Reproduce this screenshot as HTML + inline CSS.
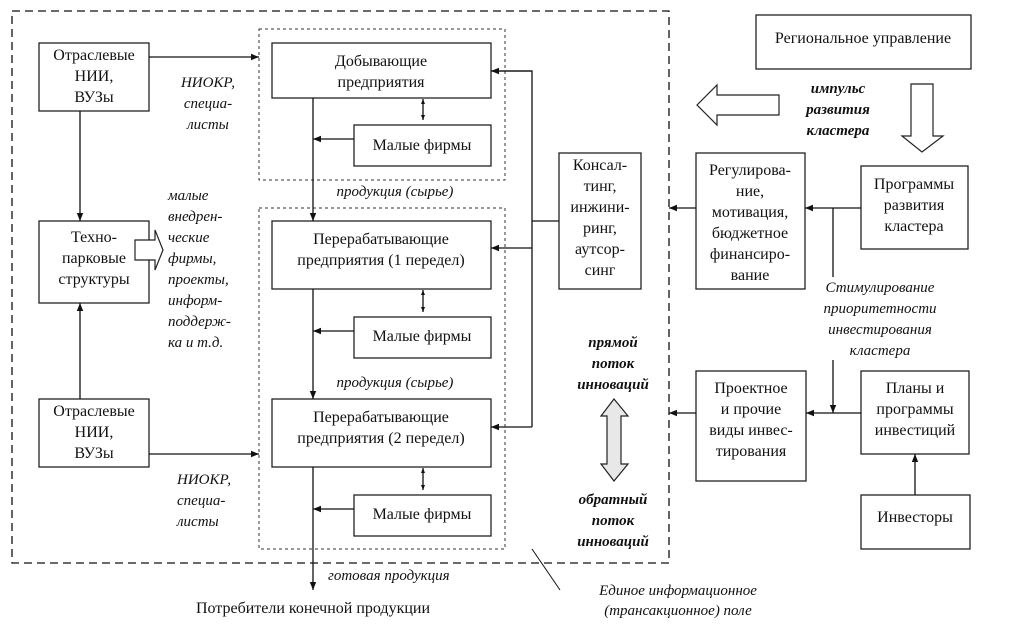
<!DOCTYPE html>
<html><head><meta charset="utf-8"><style>
body{margin:0;background:#fff}
svg{display:block}
text{font-family:"Liberation Serif","DejaVu Serif",serif;font-size:16px;fill:#111}
.c{text-anchor:middle}
.i{font-style:italic;font-size:15px}
.b{font-style:italic;font-weight:bold;font-size:15px}
rect.n{fill:#fff;stroke:#222;stroke-width:1.3}
line,polyline{stroke:#111;stroke-width:1.3;fill:none}
</style></head><body>
<svg width="1012" height="628" viewBox="0 0 1012 628" xmlns="http://www.w3.org/2000/svg">
<defs>
<marker id="a" viewBox="0 0 10 10" refX="10" refY="5" markerWidth="8" markerHeight="8" orient="auto-start-reverse" markerUnits="userSpaceOnUse"><path d="M0,1 L10,5 L0,9 z" fill="#111"/></marker>
<marker id="s" viewBox="0 0 10 10" refX="10" refY="5" markerWidth="5" markerHeight="5" orient="auto-start-reverse" markerUnits="userSpaceOnUse"><path d="M0,1 L10,5 L0,9 z" fill="#111"/></marker>
</defs>
<!-- outer dashed -->
<polyline points="669,563 12,563 12,11 669,11 669,563" style="stroke-dasharray:8,5"/>
<!-- inner dotted -->
<rect x="259" y="29" width="246" height="151" fill="none" stroke="#333" stroke-width="1" stroke-dasharray="3,3"/>
<rect x="259" y="208" width="246" height="341" fill="none" stroke="#333" stroke-width="1" stroke-dasharray="3,3"/>

<!-- left boxes -->
<rect class="n" x="39" y="43" width="110" height="68"/>
<text class="c" x="94" y="60">Отраслевые</text><text class="c" x="94" y="81">НИИ,</text><text class="c" x="94" y="102">ВУЗы</text>
<rect class="n" x="39" y="221" width="110" height="82"/>
<text class="c" x="94" y="242">Техно-</text><text class="c" x="94" y="263">парковые</text><text class="c" x="94" y="284">структуры</text>
<rect class="n" x="39" y="399" width="110" height="68"/>
<text class="c" x="94" y="416">Отраслевые</text><text class="c" x="94" y="437">НИИ,</text><text class="c" x="94" y="458">ВУЗы</text>
<line x1="80" y1="111" x2="80" y2="221" marker-end="url(#a)"/>
<line x1="80" y1="399" x2="80" y2="303" marker-end="url(#a)"/>
<line x1="149" y1="57" x2="259" y2="57" marker-end="url(#a)"/>
<line x1="149" y1="454" x2="259" y2="454" marker-end="url(#a)"/>
<polygon points="135,240 155,240 155,230 163,250 155,270 155,260 135,260" fill="#fff" stroke="#222" stroke-width="1.2"/>

<text class="i c" x="208" y="87">НИОКР,</text><text class="i c" x="208" y="108">специа-</text><text class="i c" x="208" y="129">листы</text>
<text class="i" x="168" y="200">малые</text><text class="i" x="168" y="221">внедрен-</text><text class="i" x="168" y="242">ческие</text><text class="i" x="168" y="263">фирмы,</text><text class="i" x="168" y="284">проекты,</text><text class="i" x="168" y="305">информ-</text><text class="i" x="168" y="326">поддерж-</text><text class="i" x="168" y="347">ка и т.д.</text>
<text class="i" x="177" y="484">НИОКР,</text><text class="i" x="177" y="505">специа-</text><text class="i" x="177" y="526">листы</text>

<!-- center column -->
<rect class="n" x="272" y="43" width="219" height="55"/>
<text class="c" x="381" y="66">Добывающие</text><text class="c" x="381" y="87">предприятия</text>
<rect class="n" x="354" y="125" width="137" height="41"/>
<text class="c" x="422" y="150">Малые фирмы</text>
<rect class="n" x="272" y="221" width="219" height="68"/>
<text class="c" x="381" y="244">Перерабатывающие</text><text class="c" x="381" y="265">предприятия (1 передел)</text>
<rect class="n" x="354" y="317" width="137" height="41"/>
<text class="c" x="422" y="341">Малые фирмы</text>
<rect class="n" x="272" y="399" width="219" height="68"/>
<text class="c" x="381" y="422">Перерабатывающие</text><text class="c" x="381" y="443">предприятия (2 передел)</text>
<rect class="n" x="354" y="495" width="137" height="41"/>
<text class="c" x="422" y="519">Малые фирмы</text>

<line x1="423" y1="99" x2="423" y2="120" marker-start="url(#s)" marker-end="url(#s)"/>
<line x1="423" y1="290" x2="423" y2="312" marker-start="url(#s)" marker-end="url(#s)"/>
<line x1="423" y1="468" x2="423" y2="490" marker-start="url(#s)" marker-end="url(#s)"/>
<line x1="313" y1="98" x2="313" y2="221" marker-end="url(#a)"/>
<line x1="313" y1="289" x2="313" y2="399" marker-end="url(#a)"/>
<line x1="313" y1="467" x2="313" y2="590" marker-end="url(#a)"/>
<line x1="354" y1="139" x2="313" y2="139" marker-end="url(#a)"/>
<line x1="354" y1="331" x2="313" y2="331" marker-end="url(#a)"/>
<line x1="354" y1="509" x2="313" y2="509" marker-end="url(#a)"/>
<text class="i c" x="395" y="196">продукция (сырье)</text>
<text class="i c" x="395" y="387">продукция (сырье)</text>
<text class="i" x="328" y="580">готовая продукция</text>
<text class="c" x="313" y="613">Потребители конечной продукции</text>

<!-- bus -->
<polyline points="491,71 532,71 532,427"/>
<line x1="532" y1="71" x2="491" y2="71" marker-end="url(#a)"/>
<line x1="532" y1="248" x2="491" y2="248" marker-end="url(#a)"/>
<line x1="532" y1="427" x2="491" y2="427" marker-end="url(#a)"/>
<line x1="532" y1="221" x2="559" y2="221"/>
<rect class="n" x="559" y="153" width="82" height="136"/>
<text class="c" x="600" y="170">Консал-</text><text class="c" x="600" y="191">тинг,</text><text class="c" x="600" y="212">инжини-</text><text class="c" x="600" y="233">ринг,</text><text class="c" x="600" y="254">аутсор-</text><text class="c" x="600" y="275">синг</text>

<text class="b c" x="613" y="347">прямой</text><text class="b c" x="613" y="368">поток</text><text class="b c" x="613" y="389">инноваций</text>
<polygon points="614,399 628,416 621,416 621,464 628,464 614,481 601,464 607,464 607,416 601,416" fill="#e8e8e8" stroke="#222" stroke-width="1.2"/>
<text class="b c" x="613" y="504">обратный</text><text class="b c" x="613" y="525">поток</text><text class="b c" x="613" y="546">инноваций</text>
<line x1="532" y1="549" x2="560" y2="590" style="stroke-width:1"/>
<text class="i c" x="678" y="595">Единое информационное</text>
<text class="i c" x="678" y="615">(трансакционное) поле</text>

<!-- right side -->
<rect class="n" x="756" y="15" width="215" height="54"/>
<text class="c" x="863" y="43">Региональное управление</text>
<polygon points="697,105 717,85 717,95 779,95 779,115 717,115 717,125" fill="#fff" stroke="#222" stroke-width="1.2"/>
<text class="b c" x="838" y="93">импульс</text><text class="b c" x="838" y="114">развития</text><text class="b c" x="838" y="135">кластера</text>
<polygon points="911,84 933,84 933,136 943,136 922,152 902,136 911,136" fill="#fff" stroke="#222" stroke-width="1.2"/>

<rect class="n" x="696" y="153" width="109" height="136"/>
<text class="c" x="750" y="175">Регулирова-</text><text class="c" x="750" y="196">ние,</text><text class="c" x="750" y="217">мотивация,</text><text class="c" x="750" y="238">бюджетное</text><text class="c" x="750" y="259">финансиро-</text><text class="c" x="750" y="280">вание</text>
<rect class="n" x="861" y="166" width="107" height="83"/>
<text class="c" x="914" y="189">Программы</text><text class="c" x="914" y="210">развития</text><text class="c" x="914" y="231">кластера</text>
<line x1="696" y1="208" x2="669" y2="208" marker-end="url(#a)"/>
<line x1="861" y1="208" x2="805" y2="208" marker-end="url(#a)"/>
<line x1="833" y1="208" x2="833" y2="277"/>
<text class="i c" x="880" y="292">Стимулирование</text><text class="i c" x="880" y="313">приоритетности</text><text class="i c" x="880" y="334">инвестирования</text><text class="i c" x="880" y="355">кластера</text>

<rect class="n" x="696" y="371" width="110" height="110"/>
<text class="c" x="751" y="393">Проектное</text><text class="c" x="751" y="414">и прочие</text><text class="c" x="751" y="435">виды инвес-</text><text class="c" x="751" y="456">тирования</text>
<rect class="n" x="861" y="371" width="108" height="83"/>
<text class="c" x="915" y="393">Планы и</text><text class="c" x="915" y="414">программы</text><text class="c" x="915" y="435">инвестиций</text>
<line x1="696" y1="413" x2="669" y2="413" marker-end="url(#a)"/>
<line x1="861" y1="413" x2="806" y2="413" marker-end="url(#a)"/>
<line x1="833" y1="360" x2="833" y2="413" marker-end="url(#a)"/>
<rect class="n" x="861" y="495" width="109" height="54"/>
<text class="c" x="915" y="522">Инвесторы</text>
<line x1="915" y1="495" x2="915" y2="454" marker-end="url(#a)"/>
</svg>
</body></html>
